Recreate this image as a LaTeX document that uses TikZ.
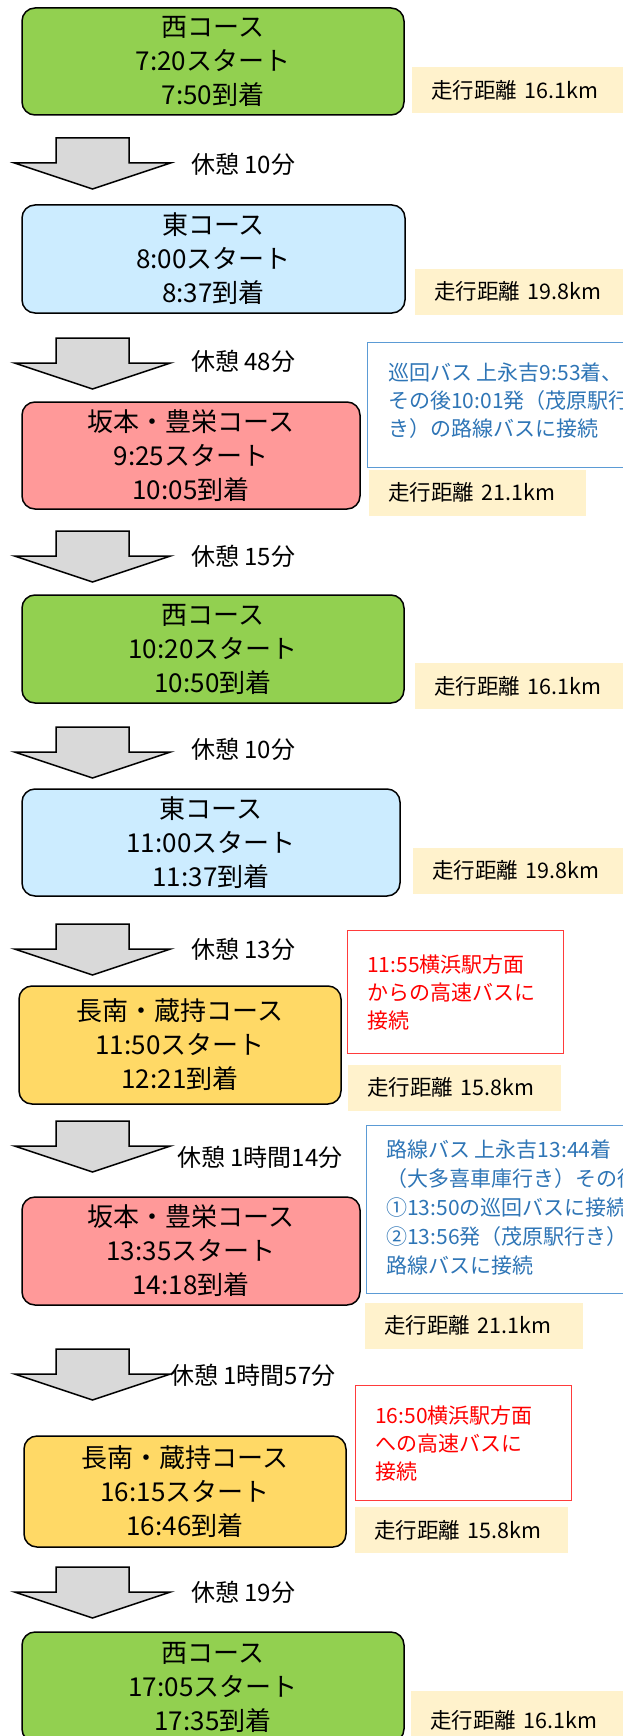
\documentclass[tikz,border=0pt]{standalone}
\usepackage{fontspec}
\setmainfont{Noto Sans CJK JP}
\definecolor{cgreen}{HTML}{92D050}
\definecolor{cblue}{HTML}{CCECFF}
\definecolor{cpink}{HTML}{FF9999}
\definecolor{cyellow}{HTML}{FFD966}
\definecolor{distfill}{HTML}{FFF2CC}
\definecolor{arrowfill}{HTML}{D9D9D9}
\definecolor{bluetext}{HTML}{2E75B6}
\definecolor{blueline}{HTML}{5B9BD5}
\definecolor{redline}{HTML}{FF3B3B}
\definecolor{redtext}{HTML}{FF0000}
\tikzset{
  course/.style={draw=black, line width=1.5pt, rounded corners=13pt, align=center,
    font=\fontsize{26}{34}\selectfont, inner sep=0pt},
  dist/.style={fill=distfill, anchor=west, inner xsep=19pt, inner ysep=0pt,
    text width=#1, align=left, minimum height=46pt, font=\fontsize{21.5}{26}\selectfont},
  restlabel/.style={anchor=west, inner sep=0pt, font=\fontsize{24}{28}\selectfont},
  bluebox/.style={draw=blueline, line width=1.3pt, inner sep=0pt},
  redbox/.style={draw=redline, line width=1.3pt, inner sep=0pt},
  bluetxt/.style={anchor=west, inner sep=0pt, align=left, text=bluetext,
    font=\fontsize{21}{28}\selectfont},
  redtxt/.style={anchor=west, inner sep=0pt, align=left, text=redtext,
    font=\fontsize{21}{28}\selectfont},
  blockarrow/.pic={\draw[line width=1.5pt, fill=arrowfill, line join=miter]
    (-36.5,0) -- (36.5,0) -- (36.5,25) -- (78,25) -- (0,51) -- (-78,25) -- (-36.5,25) -- cycle;}
}
\begin{document}
\begin{tikzpicture}[x=1pt, y=-1pt]
\useasboundingbox (0,0) rectangle (623,1736);
\clip (0,0) rectangle (623,1736);
\fill[white] (0,0) rectangle (623,1736);

% course boxes
\node[course, fill=cgreen, minimum width=382pt, minimum height=107pt] (b1) at (213,61.5) {西コース\\7:20スタート\\7:50到着};
\node[course, fill=cblue, minimum width=383pt, minimum height=108pt] (b2) at (213.5,259) {東コース\\8:00スタート\\8:37到着};
\node[course, fill=cpink, minimum width=338pt, minimum height=107pt] (b3) at (191,455.5) {坂本・豊栄コース\\9:25スタート\\10:05到着};
\node[course, fill=cgreen, minimum width=382pt, minimum height=108pt] (b4) at (213,649) {西コース\\10:20スタート\\10:50到着};
\node[course, fill=cblue, minimum width=378pt, minimum height=107pt] (b5) at (211,842.5) {東コース\\11:00スタート\\11:37到着};
\node[course, fill=cyellow, minimum width=322pt, minimum height=118pt] (b6) at (180,1045) {長南・蔵持コース\\11:50スタート\\12:21到着};
\node[course, fill=cpink, minimum width=338pt, minimum height=108pt] (b7) at (191,1251) {坂本・豊栄コース\\13:35スタート\\14:18到着};
\node[course, fill=cyellow, minimum width=322pt, minimum height=111pt] (b8) at (185,1491.5) {長南・蔵持コース\\16:15スタート\\16:46到着};
\node[course, fill=cgreen, minimum width=382pt, minimum height=110pt] (b9) at (213,1687) {西コース\\17:05スタート\\17:35到着};

% distance boxes
\node[dist=173pt] (d1) at (412,90.5) {走行距離 16.1km};
\node[dist=170pt] (d2) at (415,291.5) {走行距離 19.8km};
\node[dist=179pt] (d3) at (369,492.5) {走行距離 21.1km};
\node[dist=170pt] (d4) at (415,686) {走行距離 16.1km};
\node[dist=172pt] (d5) at (413,870.5) {走行距離 19.8km};
\node[dist=175pt] (d6) at (348,1087.5) {走行距離 15.8km};
\node[dist=180pt] (d7) at (365,1325.5) {走行距離 21.1km};
\node[dist=175pt] (d8) at (355,1530) {走行距離 15.8km};
\node[dist=174pt, minimum height=58pt] (d9) at (411,1720) {走行距離 16.1km};

% arrows
\pic (a1) at (92.5,138) {blockarrow};
\pic (a2) at (92.5,338) {blockarrow};
\pic (a3) at (92.5,531) {blockarrow};
\pic (a4) at (92.5,727) {blockarrow};
\pic (a5) at (92.5,924) {blockarrow};
\pic (a6) at (92.5,1121) {blockarrow};
\pic (a7) at (92.5,1349) {blockarrow};
\pic (a8) at (92.5,1567) {blockarrow};

% rest labels
\node[restlabel] (r1) at (191,164) {休憩 10分};
\node[restlabel] (r2) at (191,361) {休憩 48分};
\node[restlabel] (r3) at (191,556) {休憩 15分};
\node[restlabel] (r4) at (191,749) {休憩 10分};
\node[restlabel] (r5) at (191,949) {休憩 13分};
\node[restlabel] (r6) at (177,1157) {休憩 1時間14分};
\node[restlabel] (r7) at (170,1375) {休憩 1時間57分};
\node[restlabel] (r8) at (191,1592) {休憩 19分};

% notes
\node[bluebox, anchor=north west, minimum width=300pt, minimum height=125pt] (n1) at (367,342) {};
\node[bluetxt] (n1t) at (388,401) {巡回バス 上永吉9:53着、\\その後10:01発（茂原駅行\\き）の路線バスに接続};
\node[redbox, anchor=north west, minimum width=216pt, minimum height=123pt] (n2) at (347,930) {};
\node[redtxt] (n2t) at (367,992) {11:55横浜駅方面\\からの高速バスに\\接続};
\node[bluebox, anchor=north west, minimum width=300pt, minimum height=168pt] (n3) at (366,1125) {};
\node[bluetxt, font=\fontsize{21}{29}\selectfont] (n3t) at (386,1207) {路線バス 上永吉13:44着\\（大多喜車庫行き）その後\\①13:50の巡回バスに接続\\②13:56発（茂原駅行き）の\\路線バスに接続};
\node[redbox, anchor=north west, minimum width=216pt, minimum height=115pt] (n4) at (355,1385) {};
\node[redtxt] (n4t) at (375,1443) {16:50横浜駅方面\\への高速バスに\\接続};
\end{tikzpicture}
\end{document}
